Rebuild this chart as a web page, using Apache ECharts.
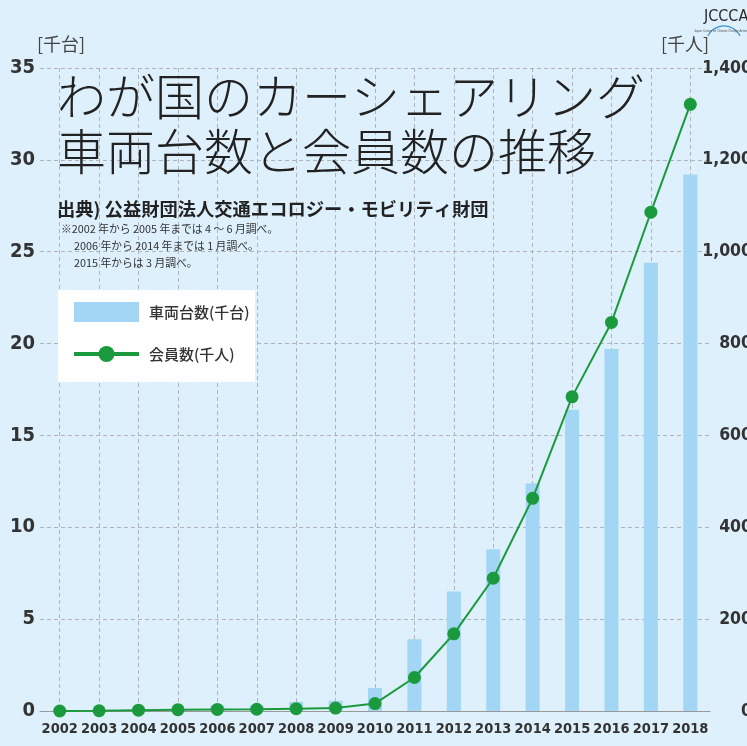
<!DOCTYPE html>
<html><head><meta charset="utf-8">
<script src="https://cdn.jsdelivr.net/npm/echarts@6/dist/echarts.min.js"></script>
<style>html,body{margin:0;padding:0;background:#ddf0fb}#c{width:747px;height:746px}</style>
</head><body><div id="c"></div>
<script>
const years = ['2002','2003','2004','2005','2006','2007','2008','2009','2010','2011','2012','2013','2014','2015','2016','2017','2018'];
const vehicles = [0.02,0.04,0.09,0.12,0.3,0.3,0.5,0.56,1.25,3.9,6.5,8.8,12.4,16.4,19.7,24.4,29.2];
const members = [0.05,0.5,1.7,2.9,3.5,3.8,5.0,6.4,16.2,73,168,289,463,684,846,1086,1321];
const leftTicks = {min:0, max:35, interval:5};
const rightTicks = {min:0, max:1400, interval:200};
const seriesNames = ['車両台数(千台)','会員数(千人)'];

const cond = '"Liberation Sans Narrow","DejaVu Sans Condensed",sans-serif';
const jp = '"Noto Sans CJK JP","Noto Sans",sans-serif';
const chart = echarts.init(document.getElementById('c'));
chart.setOption({
  backgroundColor:'#ddf0fb',
  animation:false,
  grid:{left:40,right:37,top:68,bottom:35,outerBoundsMode:'none',containLabel:false},
  graphic:[
    {type:'text',left:57,top:72,z:10,style:{text:'わが国のカーシェアリング',font:'200 49px '+jp,fill:'#222'}},
    {type:'text',left:57,top:127,z:10,style:{text:'車両台数と会員数の推移',font:'200 49px '+jp,fill:'#222'}},
    {type:'text',left:57,top:200,z:10,style:{text:'出典) 公益財団法人交通エコロジー・モビリティ財団',font:'bold 18.3px '+jp,fill:'#222'}},
    {type:'text',left:61,top:224,z:10,style:{text:'※2002 年から 2005 年までは 4 ～ 6 月調べ。',font:'10.8px '+jp,fill:'#333'}},
    {type:'text',left:74,top:241,z:10,style:{text:'2006 年から 2014 年までは 1 月調べ。',font:'10.8px '+jp,fill:'#333'}},
    {type:'text',left:74,top:258,z:10,style:{text:'2015 年からは 3 月調べ。',font:'10.8px '+jp,fill:'#333'}},
    {type:'text',left:37,top:35,z:10,style:{text:'[千台]',font:'18px '+jp,fill:'#444'}},
    {type:'text',left:661,top:35,z:10,style:{text:'[千人]',font:'18px '+jp,fill:'#444'}},
    {type:'rect',left:58,top:290,z:3,shape:{width:197,height:92},style:{fill:'#ffffff'}},
    {type:'text',left:704,top:9,z:10,style:{text:'JCCCA',font:'16px '+cond,fill:'#2a2a2a'}},
    {type:'arc',z:9,shape:{cx:724,cy:44,r:18,startAngle:-Math.PI*0.85,endAngle:-Math.PI*0.15},style:{stroke:'#3a8fd0',lineWidth:1.2,fill:null}},
    {type:'text',left:694,top:30,z:10,style:{text:'Japan Center for Climate Change Actions',font:'3px sans-serif',fill:'#555'}}
  ],
  legend:{
    left:72, top:302, orient:'vertical', itemWidth:65, itemHeight:20, itemGap:24, z:6, padding:0,
    textStyle:{fontFamily:jp,fontSize:15,fontWeight:500,color:'#333',padding:[0,0,0,5]},
    data:[{name:seriesNames[0],icon:'rect'},{name:seriesNames[1],lineStyle:{width:4}}]
  },
  xAxis:{
    type:'category', data:years, boundaryGap:true,
    axisLine:{lineStyle:{color:'#999',width:1}}, axisTick:{show:false},
    axisLabel:{fontFamily:cond,fontWeight:'bold',fontSize:14.5,color:'#333',margin:11,interval:0},
    splitLine:{show:true,alignWithLabel:true,lineStyle:{color:'#b0b4b8',type:[4,3],width:1}}
  },
  yAxis:[
    {type:'value', min:leftTicks.min, max:leftTicks.max, interval:leftTicks.interval,
     axisLine:{show:false}, axisTick:{show:false},
     axisLabel:{fontFamily:cond,fontWeight:'bold',fontSize:20,color:'#333',margin:5},
     splitLine:{lineStyle:{color:'#b0b4b8',type:[4,3],width:1}}},
    {type:'value', min:rightTicks.min, max:rightTicks.max, interval:rightTicks.interval,
     axisLine:{show:false}, axisTick:{show:false},
     axisLabel:{fontFamily:cond,fontWeight:'bold',fontSize:17.5,color:'#333',margin:42,align:'right',
       formatter:v=>v.toLocaleString('en-US')},
     splitLine:{show:false}}
  ],
  series:[
    {name:seriesNames[0], type:'bar', yAxisIndex:0, data:vehicles, barWidth:14,
     itemStyle:{color:'#a3d5f5'}},
    {name:seriesNames[1], type:'line', yAxisIndex:1, data:members, symbol:'circle', symbolSize:13,
     lineStyle:{color:'#1a9a3c',width:2}, itemStyle:{color:'#1a9a3c'}, z:5}
  ]
});
</script></body></html>
